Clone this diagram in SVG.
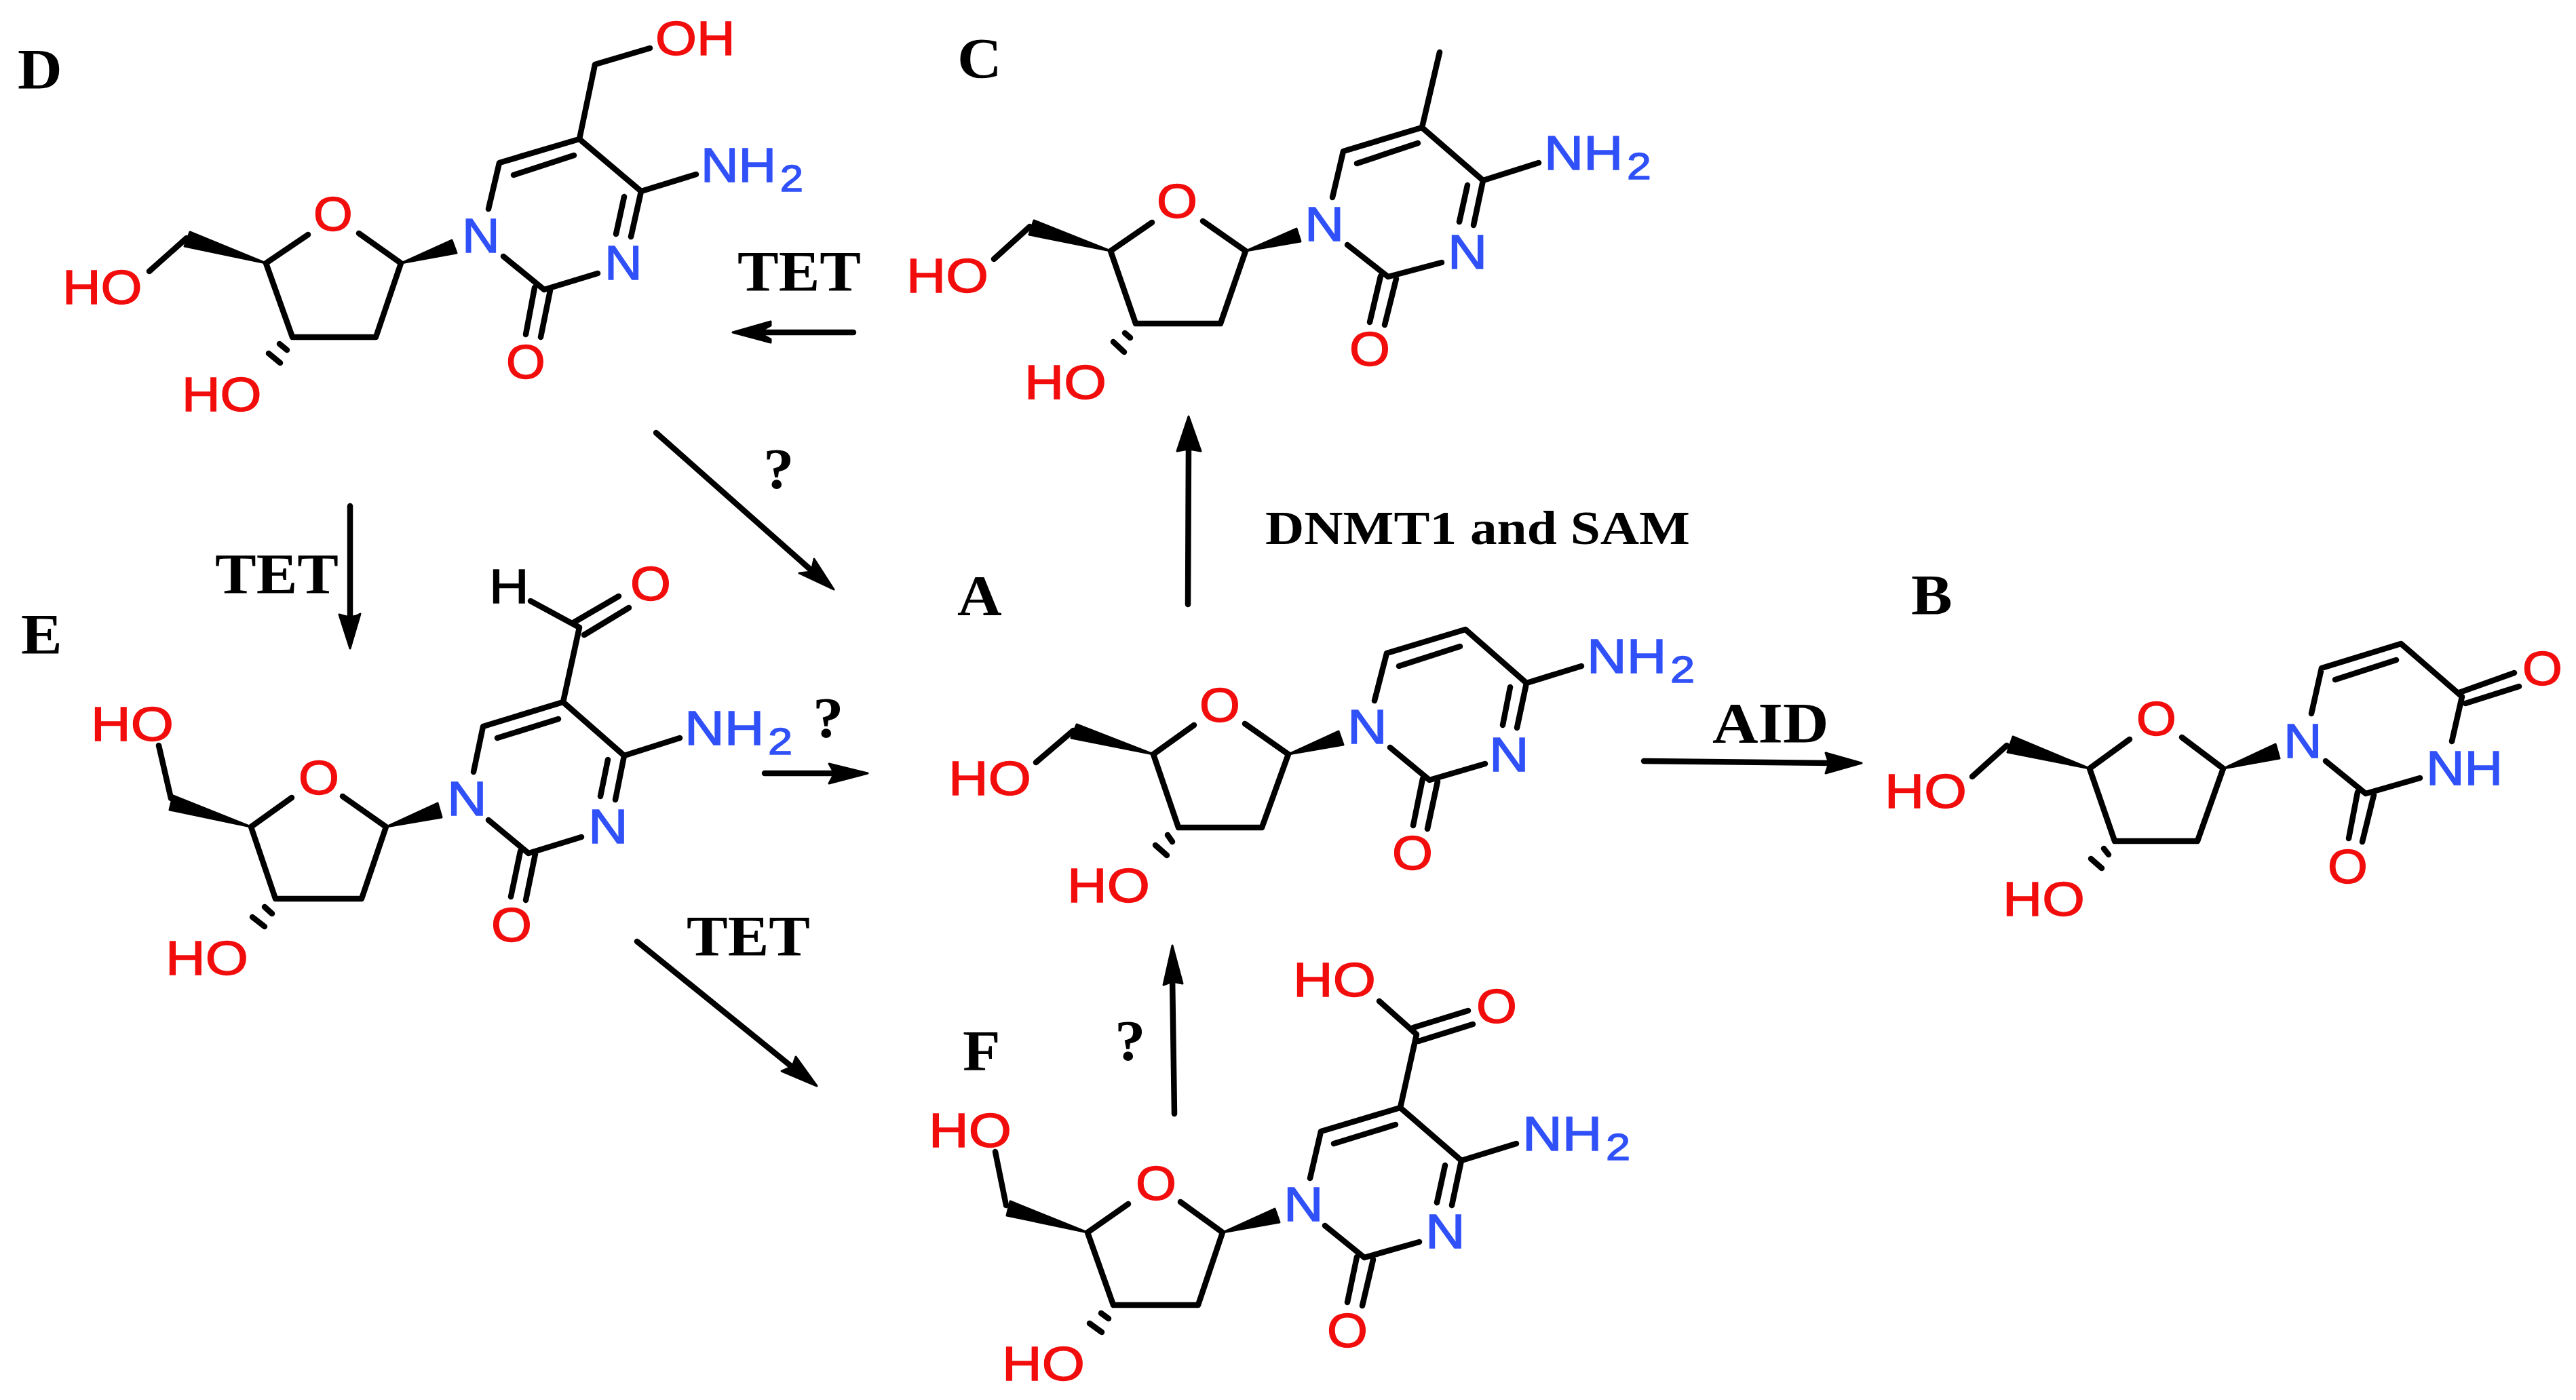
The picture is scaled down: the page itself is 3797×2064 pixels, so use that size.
<svg xmlns="http://www.w3.org/2000/svg" width="3797" height="2064" viewBox="0 0 3797 2064">
<style>
.b{fill:none;stroke:#000;stroke-width:8.5;stroke-linecap:round;stroke-linejoin:round}
.w{fill:#000;stroke:#000;stroke-width:3;stroke-linejoin:round}
.t{font-family:"Liberation Sans",Arial,sans-serif;font-size:70px;stroke-width:1.4px}
.o{fill:#f20d0d;stroke:#f20d0d}
.n{fill:#3050f8;stroke:#3050f8}
.k{fill:#000;stroke:#000}
.s{font-size:56px}
.l{font-family:"Liberation Serif","Times New Roman",serif;font-weight:bold;font-size:85px;fill:#000}
.a{fill:none;stroke:#000;stroke-width:8.5;stroke-linecap:round}
</style>
<rect width="3797" height="2064" fill="#fff"/>
<g id="connectors">
<path class="a" d="M1258 490L1125 490"/><polygon class="w" points="1080,490 1136,474 1136,480 1118,490 1136,500 1136,505"/>
<path class="a" d="M516 746L516 915"/><polygon class="w" points="516,956 500,906 507,908 516,910 525,908 531,905"/>
<path class="a" d="M967 638L1195 840"/><polygon class="w" points="1229,869 1200,824 1196,843 1178,845"/>
<path class="a" d="M939 1388L1170 1575"/><polygon class="w" points="1204,1601 1173,1558 1168,1572 1152,1579"/>
<path class="a" d="M1127 1140L1235 1140"/><polygon class="w" points="1279,1140 1222,1126 1230,1140 1222,1155"/>
<path class="a" d="M1751 891L1752 655"/><polygon class="w" points="1752,614 1735,665 1752,662 1770,665"/>
<path class="a" d="M1731 1642L1728 1440"/><polygon class="w" points="1728,1394 1715,1452 1728,1447 1743,1450"/>
<path class="a" d="M2423 1122L2700 1125"/><polygon class="w" points="2744,1125 2691,1110 2696,1125 2691,1140"/>
</g>
<g id="mol-A">
<polygon class="w" points="1700,1112 1587,1068 1579,1088"/><polygon class="w" points="1899,1112 1973,1078 1980,1098"/>
<path class="b" d="M1582 1077L1527 1124M1700 1112L1760 1069M1835 1067L1899 1112M1700 1112L1737 1220L1860 1220L1899 1112M2026 1033L2044 963L2160 928L2250 1007L2331 982M2062 982L2152 953M2250 1007L2236 1073M2226 1013L2215 1069M2189 1126L2107 1150L2049 1102M2097 1148L2083 1217M2119 1152L2104 1222M1721 1231L1728 1241M1703 1246L1720 1261"/>
<text class="t o" transform="matrix(1.16 0 0 1 1398 1172)">HO</text>
<text class="t o" transform="matrix(1.1 0 0 1 1768 1064)">O</text>
<text class="t n" transform="matrix(1.16 0 0 1 1986 1096)">N</text>
<text class="t n" transform="matrix(1.16 0 0 1 2195 1137)">N</text>
<text class="t o" transform="matrix(1.1 0 0 1 2052 1282)">O</text>
<text class="t o" transform="matrix(1.16 0 0 1 1573 1330)">HO</text>
<text class="t n" transform="matrix(1.16 0 0 1 2339 992)">NH<tspan class="s" dx="5" dy="14">2</tspan></text>
<text class="l" transform="matrix(1.07 0 0 1 1411 907)">A</text>
</g>
<g id="mol-B">
<polygon class="w" points="3080,1133 2967,1086 2959,1109"/><polygon class="w" points="3277,1133 3354,1097 3360,1118"/>
<path class="b" d="M2958 1099L2907 1145M3080 1133L3139 1090M3216 1087L3277 1133M3080 1133L3117 1240L3239 1240L3277 1133M3407 1052L3422 985L3539 949L3629 1027L3614 1093M3442 1002L3532 973M3625 1021L3706 992M3634 1037L3713 1012M3567 1147L3487 1170L3428 1122M3475 1168L3462 1236M3499 1172L3482 1241M3101 1251L3108 1260M3082 1266L3098 1280"/>
<text class="t o" transform="matrix(1.15 0 0 1 2778 1191)">HO</text>
<text class="t o" transform="matrix(1.08 0 0 1 3149 1084)">O</text>
<text class="t n" transform="matrix(1.12 0 0 1 3366 1117)">N</text>
<text class="t n" transform="matrix(1.12 0 0 1 3576 1157)">NH</text>
<text class="t o" transform="matrix(1.08 0 0 1 3718 1010)">O</text>
<text class="t o" transform="matrix(1.08 0 0 1 3431 1302)">O</text>
<text class="t o" transform="matrix(1.15 0 0 1 2952 1350)">HO</text>
<text class="l" transform="matrix(1.07 0 0 1 2817 906)">B</text>
</g>
<g id="mol-C">
<polygon class="w" points="1637,370 1524,325 1517,346"/><polygon class="w" points="1836,370 1911,337 1917,356"/>
<path class="b" d="M1518 334L1465 382M1637 370L1698 328M1773 326L1836 370M1637 370L1674 477L1799 477L1836 370M1964 291L1980 223L2096 188L2186 266L2268 240M2000 241L2090 211M2096 188L2122 77M2186 266L2172 332M2163 273L2151 327M2125 387L2046 408L1986 361M2035 407L2019 475M2058 411L2041 479M1658 491L1666 498M1641 504L1657 519"/>
<text class="t o" transform="matrix(1.15 0 0 1 1336 431)">HO</text>
<text class="t o" transform="matrix(1.1 0 0 1 1705 321)">O</text>
<text class="t n" transform="matrix(1.15 0 0 1 1923 355)">N</text>
<text class="t n" transform="matrix(1.15 0 0 1 2134 396)">N</text>
<text class="t o" transform="matrix(1.1 0 0 1 1989 539)">O</text>
<text class="t o" transform="matrix(1.15 0 0 1 1510 588)">HO</text>
<text class="t n" transform="matrix(1.15 0 0 1 2276 250)">NH<tspan class="s" dx="5" dy="14">2</tspan></text>
<text class="l" transform="matrix(1.07 0 0 1 1411 115)">C</text>
</g>
<g id="mol-D">
<polygon class="w" points="392,388 280,342 272,363"/><polygon class="w" points="591,388 666,354 673,373"/>
<path class="b" d="M275 351L220 400M392 388L454 346M529 344L591 388M392 388L431 497L554 497L591 388M720 308L736 240L854 205L945 282L1026 257M757 258L846 229M854 205L877 95L958 71M945 282L930 349M920 290L908 345M881 403L802 427L742 378M788 424L775 493M811 428L797 497M412 507L423 516M396 521L413 535"/>
<text class="t o" transform="matrix(1.12 0 0 1 92 448)">HO</text>
<text class="t o" transform="matrix(1.06 0 0 1 462 340)">O</text>
<text class="t n" transform="matrix(1.1 0 0 1 681 372)">N</text>
<text class="t n" transform="matrix(1.1 0 0 1 891 412)">N</text>
<text class="t o" transform="matrix(1.06 0 0 1 746 558)">O</text>
<text class="t o" transform="matrix(1.12 0 0 1 268 606)">HO</text>
<text class="t n" transform="matrix(1.1 0 0 1 1033 268)">NH<tspan class="s" dx="5" dy="14">2</tspan></text>
<text class="t o" transform="matrix(1.12 0 0 1 966 81)">OH</text>
<text class="l" transform="matrix(1.07 0 0 1 26 131)">D</text>
</g>
<g id="mol-E">
<polygon class="w" points="370,1219 255,1173 250,1194"/><polygon class="w" points="569,1219 645,1184 651,1205"/>
<path class="b" d="M252 1177L234 1099M370 1219L430 1176M505 1174L569 1219M370 1219L406 1325L533 1325L569 1219M698 1138L712 1071L830 1035L920 1114L1002 1088M733 1088L823 1060M830 1035L854 925L782 886M845 918L912 879M861 936L927 896M920 1114L907 1179M896 1120L885 1174M857 1234L779 1258L720 1209M767 1255L753 1322M789 1259L775 1327M390 1337L401 1347M372 1352L390 1366"/>
<text class="t o" transform="matrix(1.16 0 0 1 134 1092)">HO</text>
<text class="t o" transform="matrix(1.1 0 0 1 440 1171)">O</text>
<text class="t n" transform="matrix(1.16 0 0 1 659 1202)">N</text>
<text class="t n" transform="matrix(1.16 0 0 1 867 1243)">N</text>
<text class="t o" transform="matrix(1.1 0 0 1 724 1388)">O</text>
<text class="t o" transform="matrix(1.16 0 0 1 244 1437)">HO</text>
<text class="t n" transform="matrix(1.16 0 0 1 1009 1098)">NH<tspan class="s" dx="5" dy="14">2</tspan></text>
<text class="t k" transform="matrix(1.16 0 0 1 721 889)">H</text>
<text class="t o" transform="matrix(1.1 0 0 1 929 885)">O</text>
<text class="l" transform="matrix(1.07 0 0 1 31 964)">E</text>
</g>
<g id="mol-F">
<polygon class="w" points="1603,1817 1489,1771 1484,1792"/><polygon class="w" points="1802,1817 1879,1782 1886,1802"/>
<path class="b" d="M1483 1777L1467 1698M1603 1817L1663 1775M1740 1772L1802 1817M1603 1817L1641 1924L1766 1924L1802 1817M1931 1737L1947 1668L2064 1633L2154 1711L2235 1686M1966 1686L2057 1658M2064 1633L2088 1525L2033 1476M2083 1515L2164 1490M2091 1535L2171 1510M2154 1711L2140 1777M2130 1718L2118 1773M2092 1831L2011 1854L1953 1807M2000 1853L1986 1920M2024 1857L2008 1925M1623 1936L1634 1944M1606 1951L1624 1964"/>
<text class="t o" transform="matrix(1.16 0 0 1 1369 1691)">HO</text>
<text class="t o" transform="matrix(1.1 0 0 1 1674 1769)">O</text>
<text class="t n" transform="matrix(1.16 0 0 1 1892 1800)">N</text>
<text class="t n" transform="matrix(1.16 0 0 1 2101 1840)">N</text>
<text class="t o" transform="matrix(1.1 0 0 1 1956 1986)">O</text>
<text class="t o" transform="matrix(1.16 0 0 1 1477 2035)">HO</text>
<text class="t n" transform="matrix(1.16 0 0 1 2244 1696)">NH<tspan class="s" dx="5" dy="14">2</tspan></text>
<text class="t o" transform="matrix(1.16 0 0 1 1906 1469)">HO</text>
<text class="t o" transform="matrix(1.1 0 0 1 2176 1508)">O</text>
<text class="l" transform="matrix(1.07 0 0 1 1419 1578)">F</text>
</g>
<g id="labels">
<text class="l" transform="matrix(1.07 0 0 1 1087 429)">TET</text>
<text class="l" transform="matrix(1.07 0 0 1 317 875)">TET</text>
<text class="l" transform="matrix(1.07 0 0 1 1012 1409)">TET</text>
<text class="l" transform="matrix(1.1 0 0 1 2524 1095)">AID</text>
<text class="l" transform="matrix(1.07 0 0 1 1125 720)">?</text>
<text class="l" transform="matrix(1.07 0 0 1 1198 1087)">?</text>
<text class="l" transform="matrix(1.07 0 0 1 1643 1563)">?</text>
<text class="l" style="font-size:70px" x="1865" y="802" textLength="626" lengthAdjust="spacingAndGlyphs">DNMT1 and SAM</text>
</g>
</svg>
